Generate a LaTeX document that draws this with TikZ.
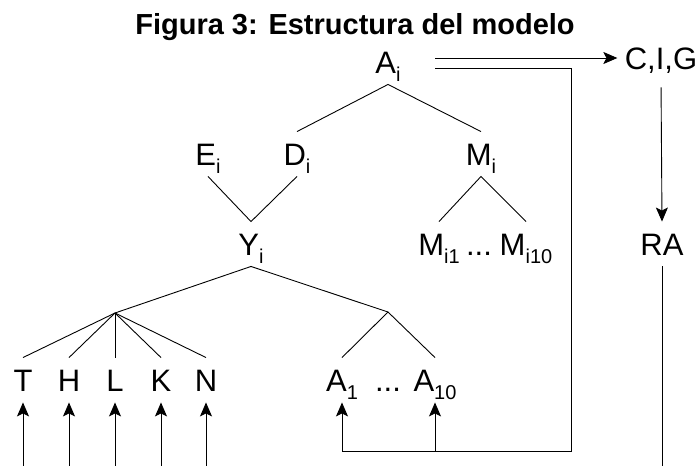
\documentclass[tikz,border=0pt]{standalone}
\usepackage{fontspec}
\setmainfont{Liberation Sans}
\usetikzlibrary{arrows.meta}

\newcommand{\lowsub}[1]{\raisebox{-8pt}{\fontsize{20}{20}\selectfont #1}}

\begin{document}
\begin{tikzpicture}[x=1pt,y=-1pt,
  lbl/.style={font=\fontsize{31}{31}\selectfont, inner xsep=0pt, inner ysep=11pt, text height=22pt, text depth=0pt},
  arr/.style={-{Stealth[length=14pt,width=12pt,inset=3pt]}},
  every path/.style={line width=0.9pt}]
\useasboundingbox (0,0) rectangle (699,466);

\node[anchor=base, font=\fontsize{29}{29}\selectfont\bfseries] (title) at (355,34) {Figura 3: Estructura del modelo};

% top level
\node[lbl] (Ai) at (388,62) {A\lowsub{i}};
\node[lbl, inner xsep=7pt] (CIG) at (661,58) {C,I,G};
\node[lbl] (Ei) at (208,154) {E\lowsub{i}};
\node[lbl] (Di) at (297,154) {D\lowsub{i}};
\node[lbl] (Mi) at (481,154) {M\lowsub{i}};

% middle row
\node[lbl] (Yi) at (251,244) {Y\lowsub{i}};
\node[lbl] (Mi1) at (439,244) {M\lowsub{i1}};
\node[lbl] (Mdots) at (479,244) {...};
\node[lbl] (Mi10) at (526,244) {M\lowsub{i10}};
\node[lbl] (RA) at (662,244) {RA};

% factors and intermediates
\foreach \x/\name in {23/T,69/H,115/L,161/K,206/N}
  \node[lbl] (\name) at (\x,380) {\name};
\node[lbl] (A1) at (342,380) {A\lowsub{1}};
\node[lbl] (Adots) at (388,380) {...};
\node[lbl] (A10) at (435,380) {A\lowsub{10}};

\coordinate (jl) at (115,313);
\coordinate (jr) at (388,312);
\coordinate (dtop) at (435,58);
\coordinate (dbot) at (435,68);
\coordinate (loopc) at (571,451);

% tree
\draw (Di.north) -- (Ai.south) -- (Mi.north);
\draw (Ei.south) -- (Yi.north) -- (Di.south);
\draw (Mi1.north) -- (Mi.south) -- (Mi10.north);
\draw (jl) -- (Yi.south) -- (jr);
\foreach \name in {T,H,L,K,N} {
  \draw (jl) -- (\name.north);
  \draw[arr] (\name.south |- 0,466) -- (\name.south);
}
\draw (A1.north) -- (jr) -- (A10.north);

% feedback
\draw[arr] (dtop) -- (CIG.west);
\draw[arr] (dbot) -| (loopc) -| (A1.south);
\draw[arr] (A10.south |- loopc) -- (A10.south);
\draw[arr, shorten <=7pt] (CIG.south) -- (RA.north);
\draw (RA.south) -- (RA.south |- 0,466);
\end{tikzpicture}
\end{document}
